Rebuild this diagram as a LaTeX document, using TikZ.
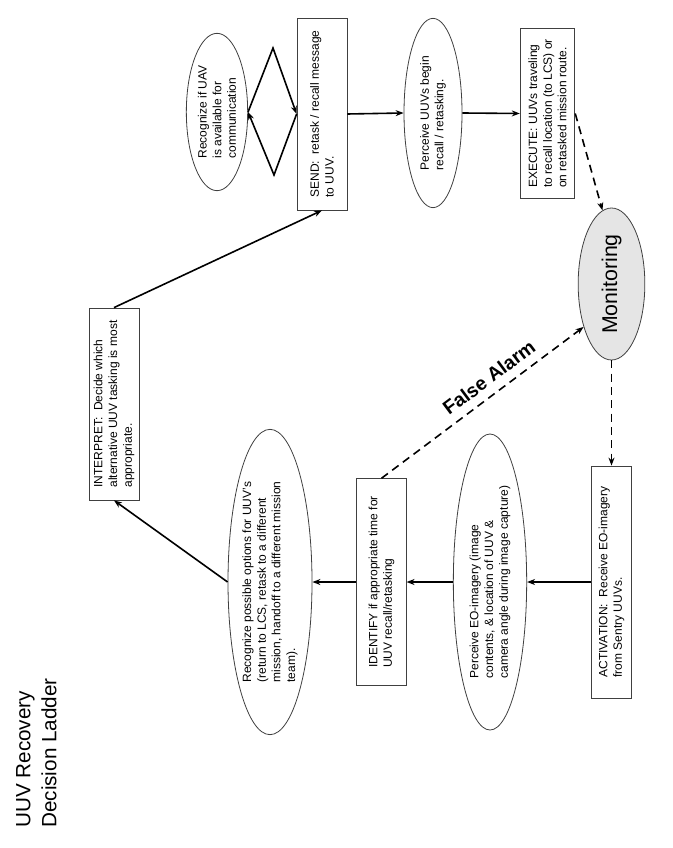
\documentclass[tikz,border=0pt]{standalone}
\usepackage{fontspec}
\setmainfont{Liberation Sans}
\usepackage{tikz}
\usetikzlibrary{shapes.geometric, arrows.meta, positioning}

\begin{document}
\begin{tikzpicture}[
    x=0.75pt, y=-0.75pt,
    % --- STYLES ---
    stepbox/.style={
        rectangle, draw=black!75, line width=0.6pt, fill=white,
        rotate=90, align=left, inner sep=2pt,
        font=\fontsize{9}{11}\selectfont
    },
    percept/.style={
        ellipse, draw=black!75, line width=0.6pt, fill=white,
        rotate=90, align=left, inner sep=0pt,
        font=\fontsize{9}{11}\selectfont
    },
    monitor/.style={
        ellipse, draw=black!75, line width=0.6pt, fill=black!10,
        rotate=90, inner sep=0pt,
        font=\fontsize{16}{19}\selectfont
    },
    control/.style={->, >={Stealth[length=6pt,width=4.5pt]}, line width=1.2pt},
    alarm/.style={control, dash pattern=on 6pt off 4pt}
]
\useasboundingbox (0,0) rectangle (672,848);

% ===== 1. TITLE =====
\node[rotate=90, anchor=north west, align=left, inner sep=0pt,
      font=\fontsize{15.5}{19.5}\selectfont] (title) at (16, 828)
      {UUV Recovery\\Decision Ladder};

% ===== 2. LOWER CHAIN (right to left) =====
\node[stepbox, minimum width=174pt, minimum height=30pt] (act) at (611.5, 582)
    {ACTIVATION:\ \ Receive EO-imagery\\from Sentry UUVs.};

\node[percept, minimum width=222pt, minimum height=55pt] (perc) at (490, 582)
    {Perceive EO-imagery (image\\contents, \& location of UUV \&\\camera angle during image capture)};

\node[stepbox, minimum width=155pt, minimum height=37pt] (iden) at (381.5, 582)
    {IDENTIFY if appropriate time for\\UUV recall/retasking};

\node[percept, minimum width=229pt, minimum height=63pt] (opts) at (270, 582)
    {Recognize possible options for UUV’s\\(return to LCS, retask to a different\\mission, handoff to a different mission\\team).};

\node[stepbox, minimum width=144pt, minimum height=37.5pt] (intp) at (114, 404)
    {INTERPRET:\ \ Decide which\\alternative UUV tasking is most\\appropriate.};

% ===== 3. UPPER CHAIN (left to right) =====
\node[percept, minimum width=118pt, minimum height=46pt] (uav) at (217, 112)
    {Recognize if UAV\\is available for\\communication};

\node[stepbox, minimum width=144pt, minimum height=37.5pt] (send) at (322, 114)
    {SEND:\ \ retask / recall message\\to UUV.};

\node[percept, minimum width=142pt, minimum height=43.5pt] (recall) at (433, 113)
    {Perceive UUVs begin\\recall / retasking.};

\node[stepbox, minimum width=128pt, minimum height=41pt] (exec) at (547.5, 113.5)
    {EXECUTE: UUVs traveling\\to recall location (to LCS) or\\on retasked mission route.};

\node[monitor, minimum width=114pt, minimum height=50pt] (mon) at (611.5, 284) {Monitoring};

% bend points between UAV check and SEND
\coordinate (peaktop) at (273, 48);
\coordinate (peakbot) at (274, 175);

% ===== 4. CONNECTIONS =====
\draw[control] (act) -- (perc);
\draw[control] (perc) -- (iden);
\draw[control] (iden) -- (opts);
\draw[control] (opts.north) -- (intp.west);
\draw[control] (intp.east) -- (send.west);

\draw[control] (uav.south) -- (peaktop) -- (send.north);
\draw[control] (send.north) -- (peakbot) -- (uav.south);

\draw[control] (send.south) -- (recall.north);
\draw[control] (recall.south) -- (exec.north);

% -- Monitoring loop --
\draw[alarm] (exec.south) -- (mon.7);
\draw[alarm] (mon) -- (act);
\draw[alarm] (iden.east) -- node[pos=0.58, sloped, above=3pt, font=\fontsize{14.5}{17}\bfseries] {False Alarm} (mon.147);

\end{tikzpicture}
\end{document}
